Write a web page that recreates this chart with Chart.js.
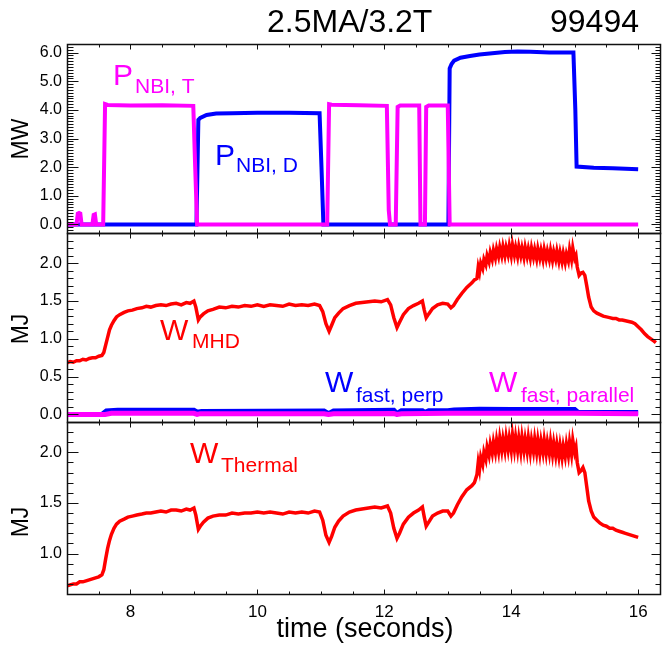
<!DOCTYPE html>
<html>
<head>
<meta charset="utf-8">
<script src="https://cdn.jsdelivr.net/npm/chart.js@4.4.0/dist/chart.umd.min.js"></script>
<style>
  html, body { margin: 0; padding: 0; background: #fff; }
  #chart { display: block; }
</style>
</head>
<body>
<canvas id="chart" width="662" height="651"></canvas>
<script>
// ---- tick labels ----
const timeTicks = [8, 10, 12, 14, 16];
const mwTicks = [0, 1, 2, 3, 4, 5, 6];
const mjTicks = [0, 0.5, 1.0, 1.5, 2.0];
const thTicks = [1.0, 1.5, 2.0];

// ---- P_NBI,T (MW) ----
const nbiTTime = [7.00, 7.15, 7.17, 7.19, 7.21, 7.23, 7.40, 7.42, 7.44, 7.46, 7.57, 7.60, 7.64, 8.00, 8.50, 8.99, 9.02, 9.05,
  11.10, 11.13, 11.17, 11.60, 12.04, 12.07, 12.09, 12.18, 12.21, 12.25, 12.55, 12.57, 12.64, 12.66, 12.70, 13.00, 13.03, 16.00];
const nbiTPower = [0, 0, 0.38, 0.40, 0.38, 0, 0, 0.33, 0.35, 0, 0, 4.20, 4.17, 4.15, 4.16, 4.14, 2.00, 0,
  0, 4.20, 4.18, 4.16, 4.14, 0.50, 0, 0, 4.10, 4.15, 4.15, 0, 0, 4.10, 4.15, 4.15, 0, 0];

// ---- P_NBI,D (MW) ----
const nbiDTime = [7.00, 9.04, 9.07, 9.10, 9.20, 9.35, 9.60, 10.00, 10.50, 10.98, 11.01, 11.04,
  13.01, 13.03, 13.06, 13.10, 13.20, 13.35, 13.50, 13.70, 13.90, 14.10, 14.30, 14.60, 14.98, 15.01, 15.03, 15.30, 15.60, 16.00];
const nbiDPower = [0, 0, 3.65, 3.72, 3.82, 3.87, 3.88, 3.90, 3.90, 3.88, 2.00, 0,
  0, 5.45, 5.60, 5.72, 5.82, 5.88, 5.93, 5.98, 6.02, 6.04, 6.03, 6.00, 6.00, 4.00, 2.02, 1.98, 1.96, 1.93];

// ---- W_MHD (MJ) ----
const wmhdTime = [7.00, 7.05, 7.10, 7.15, 7.20, 7.25, 7.30, 7.35, 7.40, 7.45, 7.50, 7.55, 7.58, 7.61, 7.64, 7.67, 7.70, 7.74, 7.78, 7.83,
  7.90, 7.96, 8.03, 8.10, 8.18, 8.25, 8.32, 8.40, 8.48, 8.56, 8.64, 8.72, 8.80, 8.88, 8.94, 9.00, 9.03, 9.07, 9.10, 9.15,
  9.22, 9.30, 9.40, 9.50, 9.60, 9.70, 9.80, 9.90, 10.00, 10.10, 10.20, 10.30, 10.40, 10.50, 10.60, 10.70, 10.80, 10.90, 10.98, 11.03,
  11.08, 11.13, 11.17, 11.22, 11.28, 11.35, 11.45, 11.55, 11.65, 11.75, 11.85, 11.95, 12.05, 12.10, 12.15, 12.20, 12.24, 12.30, 12.38, 12.46,
  12.54, 12.60, 12.63, 12.66, 12.70, 12.76, 12.84, 12.92, 13.00, 13.05, 13.09, 13.15, 13.22, 13.30, 13.38, 13.42, 13.46, 13.48, 13.50, 13.52,
  13.55, 13.57, 13.60, 13.62, 13.65, 13.67, 13.70, 13.72, 13.75, 13.77, 13.80, 13.82, 13.85, 13.87, 13.90, 13.92, 13.95, 13.97, 14.00, 14.02,
  14.05, 14.07, 14.10, 14.12, 14.15, 14.17, 14.20, 14.22, 14.25, 14.27, 14.30, 14.32, 14.35, 14.37, 14.40, 14.42, 14.45, 14.47, 14.50, 14.52,
  14.55, 14.57, 14.60, 14.62, 14.65, 14.67, 14.70, 14.72, 14.75, 14.77, 14.80, 14.82, 14.85, 14.87, 14.90, 14.92, 14.95, 14.97, 15.00, 15.02,
  15.04, 15.07, 15.10, 15.13, 15.16, 15.19, 15.22, 15.26, 15.30, 15.35, 15.40, 15.45, 15.50, 15.55, 15.60, 15.65, 15.70, 15.75, 15.80, 15.85,
  15.90, 15.95, 16.00, 16.05, 16.10, 16.15, 16.20, 16.25, 16.28];
const wmhdEnergy = [0.68, 0.70, 0.69, 0.71, 0.71, 0.73, 0.72, 0.74, 0.75, 0.75, 0.77, 0.78, 0.82, 0.92, 1.02, 1.12, 1.18, 1.24, 1.29, 1.32,
  1.35, 1.37, 1.38, 1.40, 1.41, 1.43, 1.42, 1.44, 1.45, 1.44, 1.46, 1.47, 1.45, 1.48, 1.47, 1.50, 1.42, 1.25, 1.29, 1.33,
  1.37, 1.39, 1.42, 1.41, 1.43, 1.42, 1.44, 1.43, 1.45, 1.43, 1.45, 1.44, 1.43, 1.46, 1.44, 1.45, 1.44, 1.46, 1.44, 1.36,
  1.20, 1.10, 1.18, 1.28, 1.34, 1.40, 1.44, 1.47, 1.48, 1.49, 1.50, 1.49, 1.52, 1.45, 1.28, 1.15, 1.22, 1.32, 1.40, 1.44,
  1.47, 1.50, 1.38, 1.28, 1.33, 1.40, 1.45, 1.47, 1.46, 1.41, 1.44, 1.52, 1.60, 1.68, 1.74, 1.78, 1.80, 1.95, 1.88, 2.00,
  1.93, 2.05, 1.98, 2.10, 2.02, 2.14, 2.05, 2.17, 2.07, 2.19, 2.09, 2.21, 2.10, 2.22, 2.10, 2.21, 2.11, 2.23, 2.10, 2.24,
  2.11, 2.21, 2.09, 2.22, 2.10, 2.20, 2.08, 2.21, 2.09, 2.19, 2.07, 2.20, 2.08, 2.18, 2.06, 2.19, 2.07, 2.17, 2.05, 2.18,
  2.06, 2.16, 2.05, 2.17, 2.04, 2.15, 2.05, 2.16, 2.03, 2.14, 2.02, 2.13, 2.01, 2.12, 2.03, 2.18, 2.05, 2.20, 2.06, 2.10,
  1.95, 1.84, 1.87, 1.88, 1.84, 1.70, 1.55, 1.42, 1.37, 1.34, 1.32, 1.30, 1.29, 1.28, 1.27, 1.27, 1.25, 1.25, 1.24, 1.23,
  1.22, 1.20, 1.16, 1.12, 1.07, 1.03, 1.00, 0.97, 0.95];

// ---- W_fast,perp and W_fast,parallel (MJ) ----
const wperpTime = [7.00, 7.55, 7.62, 7.80, 9.00, 9.05, 9.12, 11.05, 11.12, 11.20, 12.15, 12.20, 12.27, 12.60, 12.64, 12.70,
  13.00, 13.10, 13.50, 14.00, 15.00, 15.05, 15.30, 16.00];
const wperpEnergy = [0.00, 0.00, 0.045, 0.055, 0.055, 0.03, 0.04, 0.045, 0.01, 0.045, 0.055, 0.01, 0.05, 0.05, 0.025, 0.05,
  0.05, 0.06, 0.07, 0.065, 0.065, 0.03, 0.025, 0.025];
const wparTime = [7.00, 7.60, 7.70, 9.00, 9.05, 9.10, 11.05, 11.12, 11.20, 12.15, 12.20, 12.27, 13.00, 15.00, 16.00];
const wparEnergy = [0.00, 0.00, 0.015, 0.015, 0.00, 0.01, 0.01, 0.00, 0.01, 0.012, 0.00, 0.01, 0.015, 0.015, 0.01];

// ---- W_Thermal (MJ) ----
const wthTime = [7.00, 7.05, 7.10, 7.15, 7.20, 7.25, 7.30, 7.35, 7.40, 7.45, 7.50, 7.55, 7.58, 7.61, 7.64, 7.67, 7.70, 7.74, 7.78, 7.83,
  7.90, 7.96, 8.03, 8.10, 8.18, 8.25, 8.32, 8.40, 8.48, 8.56, 8.64, 8.72, 8.80, 8.88, 8.94, 9.00, 9.03, 9.07, 9.10, 9.15,
  9.22, 9.30, 9.40, 9.50, 9.60, 9.70, 9.80, 9.90, 10.00, 10.10, 10.20, 10.30, 10.40, 10.50, 10.60, 10.70, 10.80, 10.90, 10.98, 11.03,
  11.08, 11.13, 11.17, 11.22, 11.28, 11.35, 11.45, 11.55, 11.65, 11.75, 11.85, 11.95, 12.05, 12.10, 12.15, 12.20, 12.24, 12.30, 12.38, 12.46,
  12.54, 12.60, 12.63, 12.66, 12.70, 12.76, 12.84, 12.92, 13.00, 13.05, 13.09, 13.15, 13.22, 13.30, 13.38, 13.42, 13.46, 13.48, 13.50, 13.52,
  13.55, 13.57, 13.60, 13.62, 13.65, 13.67, 13.70, 13.72, 13.75, 13.77, 13.80, 13.82, 13.85, 13.87, 13.90, 13.92, 13.95, 13.97, 14.00, 14.02,
  14.05, 14.07, 14.10, 14.12, 14.15, 14.17, 14.20, 14.22, 14.25, 14.27, 14.30, 14.32, 14.35, 14.37, 14.40, 14.42, 14.45, 14.47, 14.50, 14.52,
  14.55, 14.57, 14.60, 14.62, 14.65, 14.67, 14.70, 14.72, 14.75, 14.77, 14.80, 14.82, 14.85, 14.87, 14.90, 14.92, 14.95, 14.97, 15.00, 15.02,
  15.04, 15.07, 15.10, 15.13, 15.16, 15.19, 15.22, 15.26, 15.30, 15.35, 15.40, 15.45, 15.50, 15.55, 15.60, 15.65, 15.70, 15.75, 15.80, 15.85,
  15.90, 15.95, 16.00];
const wthEnergy = [0.68, 0.69, 0.70, 0.70, 0.72, 0.72, 0.73, 0.74, 0.75, 0.76, 0.77, 0.79, 0.84, 0.95, 1.05, 1.13, 1.19, 1.25, 1.29, 1.32,
  1.34, 1.36, 1.37, 1.38, 1.39, 1.40, 1.40, 1.41, 1.42, 1.41, 1.43, 1.43, 1.42, 1.44, 1.43, 1.45, 1.38, 1.24, 1.27, 1.31,
  1.35, 1.37, 1.38, 1.38, 1.40, 1.39, 1.40, 1.40, 1.41, 1.40, 1.41, 1.40, 1.39, 1.41, 1.40, 1.41, 1.40, 1.42, 1.41, 1.33,
  1.18, 1.11, 1.17, 1.26, 1.32, 1.37, 1.41, 1.43, 1.44, 1.45, 1.46, 1.45, 1.47, 1.40, 1.25, 1.15, 1.20, 1.29, 1.36, 1.40,
  1.43, 1.46, 1.36, 1.27, 1.31, 1.37, 1.40, 1.42, 1.42, 1.37, 1.40, 1.48, 1.56, 1.63, 1.67, 1.70, 1.78, 1.90, 1.83, 1.95,
  1.88, 2.00, 1.93, 2.05, 1.97, 2.08, 1.99, 2.10, 2.00, 2.12, 2.01, 2.14, 2.02, 2.13, 2.02, 2.15, 2.03, 2.14, 2.02, 2.17,
  2.03, 2.15, 2.02, 2.14, 2.01, 2.15, 2.02, 2.13, 2.01, 2.14, 2.00, 2.12, 2.01, 2.13, 2.00, 2.12, 1.99, 2.11, 2.00, 2.12,
  1.99, 2.10, 1.99, 2.11, 1.98, 2.09, 1.97, 2.08, 1.96, 2.07, 1.95, 2.06, 1.96, 2.08, 1.97, 2.10, 1.98, 2.12, 2.00, 2.05,
  1.90, 1.80, 1.82, 1.85, 1.80, 1.66, 1.52, 1.42, 1.36, 1.33, 1.30, 1.28, 1.27, 1.25, 1.25, 1.23, 1.22, 1.21, 1.20, 1.19,
  1.18, 1.17, 1.16];

const pts = (ts, vs) => ts.map((t, i) => ({ x: t, y: vs[i] }));

const MAGENTA = '#ff00ff';
const BLUE = '#0000ff';
const RED = '#ff0000';
const FONT = '"Liberation Sans", Arial, Helvetica, sans-serif';

Chart.defaults.font.family = FONT;
Chart.defaults.color = '#000';

function line(data, axis, color, width) {
    return {
        data: data,
        yAxisID: axis,
        borderColor: color,
        borderWidth: width,
        pointRadius: 0,
        fill: false,
        tension: 0
    };
}

/* ------------------ IDL style frames with inward ticks ------------------ */
const panels = [
    { id: 'yPow', majors: mwTicks, minor: 0.1 },
    { id: 'yW', majors: mjTicks, minor: 0.1 },
    { id: 'yTh', majors: thTicks, minor: 0.1 }
];

const framePlugin = {
    id: 'idlFrame',
    afterDraw(chart) {
        const ctx = chart.ctx;
        const xs = chart.scales.x;
        const left = Math.round(chart.chartArea.left) + 0.5;
        const right = Math.round(chart.chartArea.right) - 0.5;
        ctx.save();
        ctx.strokeStyle = '#111';
        panels.forEach(p => {
            const ys = chart.scales[p.id];
            const top = Math.round(ys.top) + 0.5;
            const bottom = Math.round(ys.bottom) + 0.5;
            ctx.lineWidth = 1;
            ctx.beginPath();
            const k0 = Math.ceil(ys.min / p.minor - 1e-6);
            for (let k = k0; k * p.minor <= ys.max + 1e-9; k++) {
                const v = k * p.minor;
                const py = Math.round(ys.getPixelForValue(v)) + 0.5;
                const major = p.majors.some(m => Math.abs(m - v) < 1e-6);
                const lenL = major ? 11 : 6;
                const lenR = major ? 9 : 5;
                ctx.moveTo(left, py); ctx.lineTo(left + lenL, py);
                ctx.moveTo(right, py); ctx.lineTo(right - lenR, py);
            }
            for (let k = Math.ceil(xs.min / 0.5); k * 0.5 <= xs.max; k++) {
                const v = k * 0.5;
                const px = Math.round(xs.getPixelForValue(v)) + 0.5;
                const major = timeTicks.includes(v);
                const len = major ? 5 : 3;
                ctx.moveTo(px, top); ctx.lineTo(px, top + len);
                ctx.moveTo(px, bottom); ctx.lineTo(px, bottom - len);
            }
            ctx.stroke();
            ctx.lineWidth = 1.5;
            ctx.strokeRect(left, top, right - left, bottom - top);
        });
        ctx.restore();
    }
};

/* ------------------ titles and trace labels ------------------ */
function subLabel(ctx, main, sub, x, y, subX, subY, color) {
    ctx.fillStyle = color;
    ctx.font = '30px ' + FONT;
    ctx.fillText(main, x, y);
    ctx.font = '21px ' + FONT;
    ctx.fillText(sub, subX, subY);
}

const textPlugin = {
    id: 'idlText',
    afterDraw(chart) {
        const ctx = chart.ctx;
        ctx.save();
        ctx.textAlign = 'left';
        ctx.textBaseline = 'alphabetic';
        ctx.fillStyle = '#000';
        ctx.font = '32px ' + FONT;
        ctx.fillText('2.5MA/3.2T', 267, 32);
        ctx.fillText('99494', 550, 32);

        ctx.font = '27px ' + FONT;
        ctx.textAlign = 'center';
        ctx.fillText('time (seconds)', 365, 637);

        const ytitle = (txt, cy) => {
            ctx.save();
            ctx.translate(28, cy);
            ctx.rotate(-Math.PI / 2);
            ctx.textAlign = 'center';
            ctx.font = '23px ' + FONT;
            ctx.fillStyle = '#000';
            ctx.fillText(txt, 0, 0);
            ctx.restore();
        };
        ytitle('MW', 139);
        ytitle('MJ', 329);
        ytitle('MJ', 522);

        ctx.textAlign = 'left';
        subLabel(ctx, 'P', 'NBI, T', 113, 85, 135, 93, MAGENTA);
        subLabel(ctx, 'P', 'NBI, D', 215, 165, 236, 172, BLUE);
        subLabel(ctx, 'W', 'MHD', 160, 340, 192, 348, RED);
        subLabel(ctx, 'W', 'fast, perp', 325, 392, 356, 402, BLUE);
        subLabel(ctx, 'W', 'fast, parallel', 489, 392, 521, 402, MAGENTA);
        subLabel(ctx, 'W', 'Thermal', 190, 463, 221, 472, RED);
        ctx.restore();
    }
};

function yAxis(ticksArr, min, max, weight, order) {
    return {
        type: 'linear',
        position: 'left',
        stack: 'panels',
        stackWeight: weight,
        weight: order,
        min: min,
        max: max,
        grid: { display: false, drawTicks: false },
        border: { display: false },
        afterBuildTicks: s => { s.ticks = ticksArr.map(v => ({ value: v })); },
        afterFit: s => { s.width = 67; },
        ticks: {
            autoSkip: false,
            padding: 5,
            font: { size: 16 },
            color: '#000',
            callback: v => v.toFixed(1)
        }
    };
}

new Chart(document.getElementById('chart'), {
    type: 'line',
    data: {
        datasets: [
            line(pts(nbiTTime, nbiTPower), 'yPow', MAGENTA, 4),
            line(pts(nbiDTime, nbiDPower), 'yPow', BLUE, 4),
            line(pts(wmhdTime, wmhdEnergy), 'yW', RED, 3.5),
            line(pts(wparTime, wparEnergy), 'yW', MAGENTA, 5),
            line(pts(wperpTime, wperpEnergy), 'yW', BLUE, 5),
            line(pts(wthTime, wthEnergy), 'yTh', RED, 3.5)
        ]
    },
    options: {
        responsive: false,
        animation: false,
        events: [],
        layout: { padding: { top: 44, right: 1, bottom: 0, left: 0 } },
        plugins: { legend: { display: false }, tooltip: { enabled: false } },
        scales: {
            x: {
                type: 'linear',
                position: 'bottom',
                min: 7,
                max: 16.36,
                grid: { display: false, drawTicks: false },
                border: { display: false },
                afterBuildTicks: s => { s.ticks = timeTicks.map(v => ({ value: v })); },
                afterFit: s => { s.height = 57; },
                ticks: { autoSkip: false, padding: 8, font: { size: 17 }, color: '#000', maxRotation: 0 }
            },
            yPow: yAxis(mwTicks, -0.3, 6.3, 189, 3),
            yW: yAxis(mjTicks, -0.1, 2.4, 189, 2),
            yTh: yAxis(thTicks, 0.6, 2.3, 172, 1)
        }
    },
    plugins: [framePlugin, textPlugin]
});
</script>
</body>
</html>
